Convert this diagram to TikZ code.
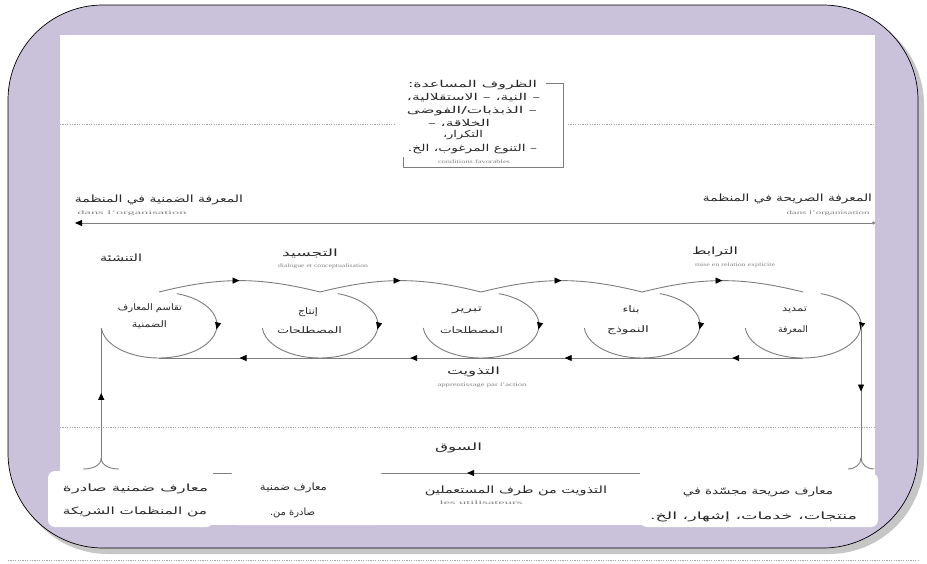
\documentclass[tikz,border=0pt]{standalone}
\usepackage{fontspec}
\usepackage{graphicx}
\setmainfont{Liberation Serif}
\newfontfamily\arabicfont[Script=Arabic]{DejaVu Sans}
\TeXXeTstate=1
\usetikzlibrary{arrows.meta,decorations.markings}
\definecolor{lav}{RGB}{202,193,219}
\definecolor{lnc}{RGB}{125,125,125}
\definecolor{txc}{RGB}{40,40,40}
\definecolor{gtc}{RGB}{130,130,130}
\newcommand{\arfit}[2]{\resizebox{#1}{\height}{\arabicfont #2}}
\newcommand{\gtx}[2]{\resizebox{#1}{3.6pt}{#2}}
\begin{document}
\begin{tikzpicture}[x=1pt,y=1pt,
  >={Triangle[length=7pt,width=6pt,color=black]},
  flow/.style={draw=lnc,line width=0.9pt},
  midarr/.style={postaction={decorate,decoration={markings,mark=at position #1 with {\arrow{>}}}}},
  dots/.style={draw=gray!70,line width=0.6pt,dash pattern=on 1.2pt off 1.2pt},
  ar/.style={text=txc,inner sep=0pt,font=\fontsize{#1}{#1}\selectfont},
  ar/.default=10,
  gtxt/.style={text=gtc,inner sep=0pt},
  wbox/.style={fill=white,draw=none,rounded corners=7pt,inner sep=0pt}
]
\useasboundingbox (0,0) rectangle (927,-563);
\fill[white] (0,0) rectangle (927,-563);
% frame
\fill[gray!45,rounded corners=95pt] (13,-10) rectangle (924,-554);
\draw[fill=lav,draw=black,line width=0.7pt,rounded corners=95pt] (8,-5) rectangle (918,-548);
\fill[white] (60,-35) rectangle (875,-525);
% dotted lines
\draw[dots] (8,-560) -- (918,-560);
\draw[dots] (60,-124) -- (395,-124);
\draw[dots] (568,-124) -- (875,-124);
\draw[dots] (60,-427) -- (875,-427);
% enabling conditions
\draw[lnc,line width=0.6pt] (546,-83) -- (563,-83) -- (563,-167) -- (403,-167) -- (403,-157);
\node[ar=9.5] (cond1) at (472.5,-85) {\arfit{129pt}{\beginR الظروف المساعدة:\endR}};
\node[ar=9.5] (cond2) at (473.5,-98) {\arfit{133pt}{\beginR – النية، – الاستقلالية،\endR}};
\node[ar=9.5] (cond3) at (472,-111) {\arfit{130pt}{\beginR – الذبذبات/الفوضى\endR}};
\node[ar=9.5] (cond4) at (459,-123) {\arfit{62pt}{\beginR الخلاقة، –\endR}};
\node[ar=9.5] (cond5) at (463,-135) {\arfit{40pt}{\beginR التكرار،\endR}};
\node[ar=9.5] (cond6) at (472.5,-149) {\arfit{129pt}{\beginR – التنوع المرغوب، الخ.\endR}};
\node[gtxt] (condg) at (474,-162) {\gtx{72pt}{conditions favorables}};
% knowledge in organisation
\node[ar] (tacit) at (159,-200) {\arfit{168pt}{\beginR المعرفة الضمنية في المنظمة\endR}};
\node[gtxt] (tacitg) at (132,-213) {\gtx{109pt}{dans l'organisation}};
\node[ar] (expl) at (787.5,-199) {\arfit{169pt}{\beginR المعرفة الصريحة في المنظمة\endR}};
\node[gtxt] (explg) at (828,-213) {\gtx{83pt}{dans l'organisation}};
\coordinate (tr) at (875,-223);
\coordinate (tl) at (75,-223);
\draw[flow,{Circle[length=3pt,color=lnc]}->] (tr) -- (tl);
% phase labels
\node[ar] (soc) at (121,-258) {\arfit{42pt}{\beginR التنشئة\endR}};
\node[ar] (ext) at (310,-253) {\arfit{56pt}{\beginR التجسيد\endR}};
\node[gtxt] (extg) at (323,-266) {\gtx{90pt}{dialogue et conceptualisation}};
\node[ar] (com) at (715,-252) {\arfit{46pt}{\beginR الترابط\endR}};
\node[gtxt] (comg) at (735,-265) {\gtx{80pt}{mise en relation explicite}};
\node[ar] (int) at (473.5,-372) {\arfit{53pt}{\beginR التذويت\endR}};
\node[gtxt] (intg) at (482,-385) {\gtx{89pt}{apprentissage par l'action}};
% circle centres
\foreach \i/\cx in {1/159,2/320,3/481,4/642,5/803}{\coordinate (k\i) at (\cx,-325);}
% phase loops
\foreach \i in {1,...,5}{
  \draw[flow,midarr=0.3] ([shift={(72:58pt and 33pt)}]k\i) arc[start angle=72,end angle=-175,x radius=58pt,y radius=33pt];
}
% connecting arcs on top
\foreach \i/\j in {1/2,2/3,3/4,4/5}{
  \draw[flow,midarr=0.5] ([yshift=33pt]k\i) to[bend left=14] ([yshift=33pt]k\j);
}
% return line at the bottom
\draw[flow,postaction={decorate,decoration={markings,
  mark=at position 0.11 with {\arrow{>}},
  mark=at position 0.37 with {\arrow{>}},
  mark=at position 0.61 with {\arrow{>}},
  mark=at position 0.875 with {\arrow{>}}}}] ([yshift=-33pt]k5) -- ([yshift=-33pt]k1);
% verticals to the market
\coordinate (fr) at (861,-458);
\coordinate (fl) at ([shift={(-175:58pt and 33pt)}]k1);
\coordinate (flb) at (fl |- fr);
\draw[flow,midarr=0.5] ([xshift=58pt]k5) -- (fr);
\draw[flow,midarr=0.5] (flb) -- (fl);
\draw[flow] (fr) to[out=-90,in=0] ++(-13,-11);
\draw[flow] (fr) to[out=-90,in=180] ++(13,-11);
\draw[flow] (flb) to[out=-90,in=0] ++(-18,-11);
\draw[flow] (flb) to[out=-90,in=180] ++(18,-11);
% market line
\coordinate (m1) at (640,-473);
\coordinate (m2) at (213,-473);
\draw[flow,midarr=0.405] (m1) -- (m2);
% bottom boxes
\node[wbox,minimum width=165pt,minimum height=56pt] (bA) at (130.5,-499) {};
\node[wbox,minimum width=153pt,minimum height=54pt] (bB) at (306.5,-498) {};
\node[wbox,minimum width=238pt,minimum height=54pt] (bD) at (759,-500) {};
\node[ar] (mkt) at (458.5,-448) {\arfit{47pt}{\beginR السوق\endR}};
\node[ar] (tA1) at (135.5,-489) {\arfit{145pt}{\beginR معارف ضمنية صادرة\endR}};
\node[ar] (tA2) at (135,-512) {\arfit{144pt}{\beginR من المنظمات الشريكة\endR}};
\node[ar] (tB1) at (293.5,-488) {\arfit{67pt}{\beginR معارف ضمنية\endR}};
\node[ar] (tB2) at (292.5,-513) {\arfit{45pt}{\beginR صادرة من.\endR}};
\node[ar] (tC) at (516,-491) {\arfit{182pt}{\beginR التذويت من طرف المستعملين\endR}};
\node[gtxt] (tCg) at (481,-503) {\gtx{83pt}{les utilisateurs}};
\node[ar] (tD1) at (758,-492) {\arfit{150pt}{\beginR معارف صريحة مجسّدة في\endR}};
\node[ar] (tD2) at (753.5,-517) {\arfit{207pt}{\beginR منتجات، خدمات، إشهار، الخ.\endR}};
% phase texts
\node[ar=9] (c1a) at (150,-308) {\arfit{64pt}{\beginR تقاسم المعارف\endR}};
\node[ar=9] (c1b) at (149.5,-325) {\arfit{35pt}{\beginR الضمنية\endR}};
\node[ar=9] (c2a) at (308,-312) {\arfit{20pt}{\beginR إنتاج\endR}};
\node[ar=9] (c2b) at (309.5,-330) {\arfit{65pt}{\beginR المصطلحات\endR}};
\node[ar=9] (c3a) at (467,-310) {\arfit{30pt}{\beginR تبرير\endR}};
\node[ar=9] (c3b) at (471.5,-330) {\arfit{63pt}{\beginR المصطلحات\endR}};
\node[ar=9] (c4a) at (631,-310) {\arfit{17pt}{\beginR بناء\endR}};
\node[ar=9] (c4b) at (628,-330) {\arfit{42pt}{\beginR النموذج\endR}};
\node[ar=9] (c5a) at (794.5,-310) {\arfit{25pt}{\beginR تمديد\endR}};
\node[ar=9] (c5b) at (793,-330) {\arfit{30pt}{\beginR المعرفة\endR}};
\end{tikzpicture}
\end{document}
